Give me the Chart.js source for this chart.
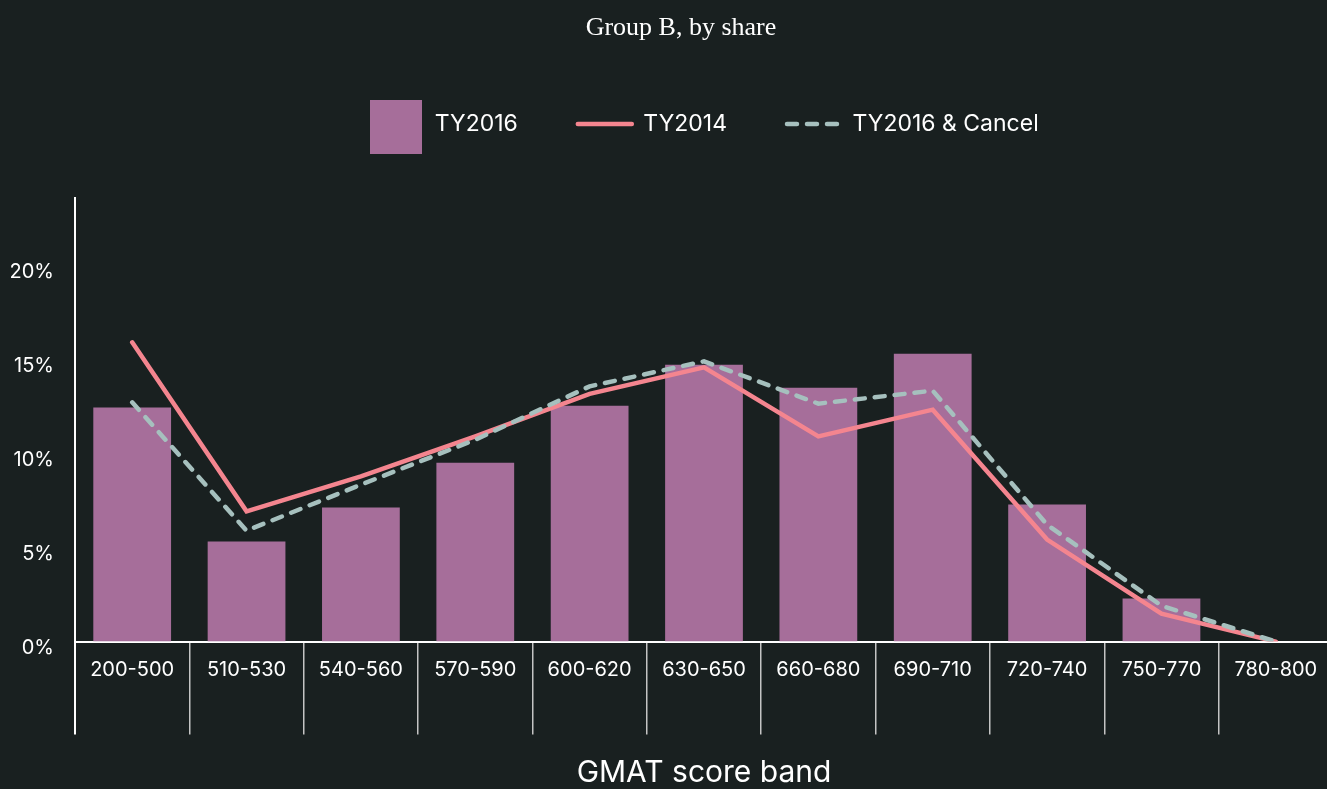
<!DOCTYPE html>
<html>
<head>
<meta charset="utf-8">
<script src="https://cdn.jsdelivr.net/npm/chart.js@4.4.1/dist/chart.umd.min.js"></script>
<style>
  html, body { margin: 0; padding: 0; background: #192020; overflow: hidden; }
  #wrap { position: relative; width: 1362px; height: 789px; }
</style>
</head>
<body>
<div id="wrap"><canvas id="chart"></canvas></div>
<script>
const categories = ['200-500', '510-530', '540-560', '570-590', '600-620', '630-650', '660-680', '690-710', '720-740', '750-770', '780-800'];
const ty2016 = [12.45, 5.32, 7.13, 9.52, 12.55, 14.73, 13.51, 15.32, 7.29, 2.29, 0];
const ty2014 = [15.92, 6.93, 8.79, 10.92, 13.18, 14.59, 10.92, 12.34, 5.43, 1.49, 0];
const ty2016Cancel = [12.73, 5.9, 8.35, 10.74, 13.58, 14.91, 12.66, 13.35, 6.22, 1.91, 0];
const yTickValues = [0, 5, 10, 15, 20];

const TEXT = '#ffffff';
const BAR = '#a66e9a';
const PINK = '#f4858f';
const DASH = '#a6c0be';
const FONT = 'Inter, "DejaVu Sans", sans-serif';

// legend swatch for the bar series
const barSwatch = document.createElement('canvas');
barSwatch.width = 52; barSwatch.height = 60;
(function () {
  const c = barSwatch.getContext('2d');
  c.fillStyle = BAR;
  c.fillRect(0, 6, 52, 54);
})();

const layoutTweaks = {
  id: 'layoutTweaks',
  beforeInit(chart) {
    const orig = chart.legend.fit;
    chart.legend.fit = function () {
      orig.call(this);
      this.height += 52.5;
    };
  },
  afterLayout(chart) {
    // centre the title over the same span as the original figure
    chart.titleBlock.left = 29;
    chart.titleBlock.right = 1333;
    chart.titleBlock.width = 1304;
  }
};

new Chart(document.getElementById('chart'), {
  data: {
    labels: categories,
    datasets: [
      {
        type: 'bar', label: 'TY2016', data: ty2016,
        backgroundColor: BAR, borderWidth: 0,
        categoryPercentage: 1.0, barPercentage: 0.68, order: 3
      },
      {
        type: 'line', label: 'TY2014', data: ty2014,
        borderColor: PINK, backgroundColor: PINK, borderWidth: 4.5,
        pointRadius: 0, tension: 0, borderCapStyle: 'round', fill: false, order: 2
      },
      {
        type: 'line', label: 'TY2016 & Cancel', data: ty2016Cancel,
        borderColor: DASH, backgroundColor: DASH, borderWidth: 4.5, borderDash: [10, 10],
        pointRadius: 0, tension: 0, borderCapStyle: 'round', fill: false, order: 1
      }
    ]
  },
  options: {
    responsive: true,
    maintainAspectRatio: false,
    animation: false,
    layout: { padding: { left: 4, right: 29, top: 0, bottom: 0 } },
    plugins: {
      tooltip: { enabled: false },
      title: {
        display: true, text: 'Group B, by share', color: TEXT,
        font: { family: '"Liberation Serif", "DejaVu Serif", serif', size: 26, weight: 'normal' },
        padding: { top: 12.4, bottom: 8.9 }
      },
      legend: {
        display: true, position: 'top', fullSize: false,
        labels: {
          color: TEXT,
          font: { family: FONT, size: 23 },
          usePointStyle: true,
          pointStyleWidth: 54,
          padding: 60,
          sort: (a, b) => a.datasetIndex - b.datasetIndex,
          generateLabels(chart) {
            const items = Chart.defaults.plugins.legend.labels.generateLabels(chart);
            items.forEach(it => {
              const ds = chart.data.datasets[it.datasetIndex];
              if (ds.type === 'line') {
                it.pointStyle = 'line';
                it.lineWidth = 4.5;
                it.strokeStyle = ds.borderColor;
                it.fillStyle = ds.borderColor;
                it.lineDash = ds.borderDash || [];
                it.lineCap = 'round';
              } else {
                it.pointStyle = barSwatch;
                it.lineWidth = 0;
              }
            });
            return items;
          }
        }
      }
    },
    scales: {
      x: {
        type: 'category',
        offset: true,
        grid: {
          offset: true, drawOnChartArea: false, drawTicks: true, tickLength: 93,
          color: ctx => ctx.index === 0 ? '#ffffff' : '#c4c4c4',
          lineWidth: ctx => ctx.index === 0 ? 2 : 1.5
        },
        border: { display: true, color: '#ffffff', width: 2 },
        ticks: {
          color: TEXT, font: { family: FONT, size: 20 },
          padding: -77, maxRotation: 0, minRotation: 0, autoSkip: false
        },
        title: {
          display: true, text: 'GMAT score band', color: TEXT,
          font: { family: FONT, size: 30 },
          padding: { top: 150.4, bottom: -2 }
        }
      },
      y: {
        min: 0, max: 23.6,
        grid: { display: false, drawTicks: false },
        border: { display: true, color: '#ffffff', width: 2 },
        afterBuildTicks: s => { s.ticks = yTickValues.map(v => ({ value: v })); },
        afterFit: s => { s.width = 71; },
        ticks: {
          color: TEXT, font: { family: FONT, size: 20 },
          padding: 21, labelOffset: 6,
          callback: v => v + '%'
        }
      }
    }
  },
  plugins: [layoutTweaks]
});
</script>
</body>
</html>
